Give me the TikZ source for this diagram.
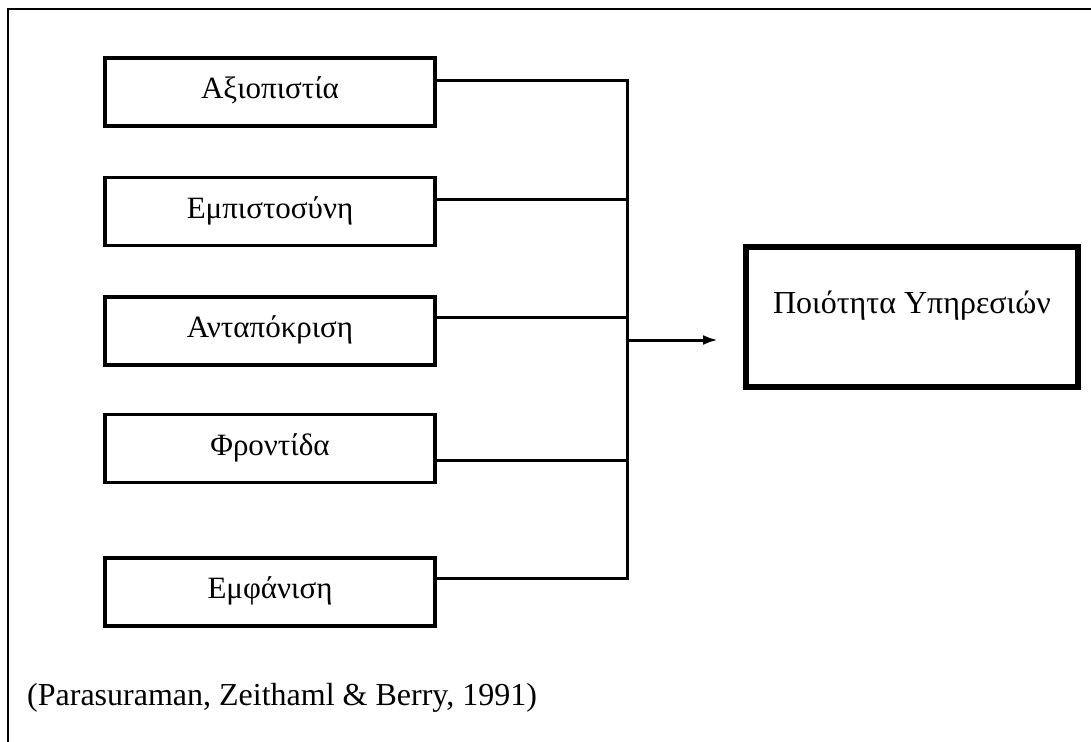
\documentclass[tikz,border=0pt]{standalone}
\usepackage{fontspec}
\setmainfont{Liberation Serif}
\usetikzlibrary{
arrows.meta,
positioning
}
\tikzset{>={Latex[length=15pt,width=10pt]}}

\begin{document}
\begin{tikzpicture}[x=1pt, y=-1pt,
	dimbox/.style={draw, line width=3.5pt, minimum width=330pt, minimum height=68pt, inner sep=0pt, text height=20pt, text depth=7pt, font=\fontsize{31}{36}\selectfont},
	resultbox/.style={draw, line width=6pt, minimum width=332pt, minimum height=140pt, inner sep=0pt, text height=21pt, text depth=29pt, font=\fontsize{32}{38}\selectfont},
	link/.style={line width=3pt}]
		\useasboundingbox (0,0) rectangle (1091,741);
		% outer frame
		\draw[line width=2pt] (8,745) -- (8,9) -- (1095,9);
		
		\node[dimbox] (reliab) at (270,92) {Αξιοπιστία};
		\node[dimbox,below=48pt of reliab] (trust) {Εμπιστοσύνη};
		\node[dimbox,below=48pt of trust] (respons) {Ανταπόκριση};
		\node[dimbox,below=46pt of respons] (care) {Φροντίδα};
		\node[dimbox,below=72pt of care] (appear) {Εμφάνιση};
		
		\node[resultbox] (quality) at (912,317) {Ποιότητα Υπηρεσιών};
		
		% junctions on the bus
		\coordinate (ja) at (627,81);
		\coordinate (jb) at (627,199);
		\coordinate (jc) at (627,317);
		\coordinate (jd) at (627,460);
		\coordinate (je) at (627,578);
		\coordinate (jmid) at (627,340);
		
		% bus and links
		\draw[link] (reliab.east |- ja) -- (ja) -- (je) -- (appear.east |- je);
		\foreach \b/\j in {trust/jb, respons/jc, care/jd}
			\draw[link] (\b.east |- \j) -- (\j);
		\draw[link,->] (jmid) -- ([xshift=-25pt]quality.west |- jmid);
		
		% source
		\node[anchor=base west,inner sep=0pt,font=\fontsize{32}{38}\selectfont] (source) at (27,705) {(Parasuraman, Zeithaml \& Berry, 1991)};
	\end{tikzpicture}
\end{document}
